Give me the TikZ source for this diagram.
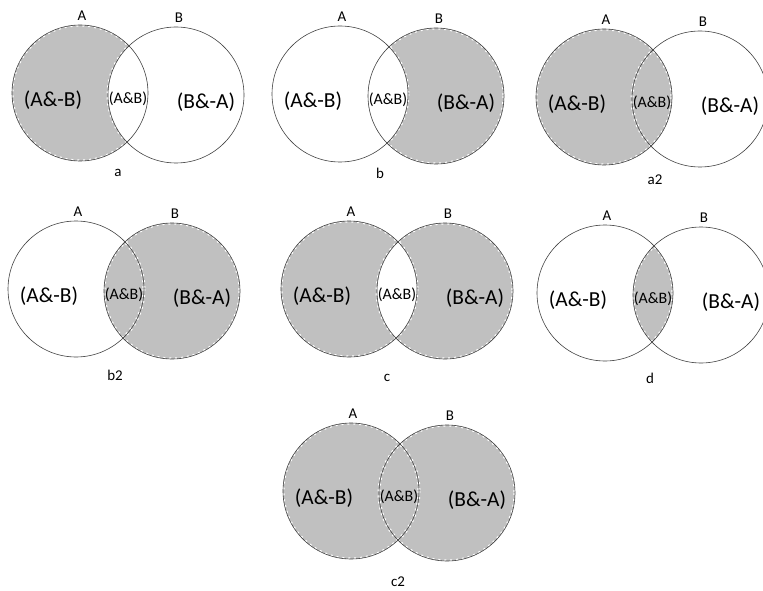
\documentclass[tikz,border=0pt]{standalone}
\usepackage{fontspec}
\setmainfont{Carlito}
\definecolor{setgray}{RGB}{192,192,192}
\tikzset{
  setname/.style={font=\fontsize{15}{18}\selectfont,inner sep=0pt},
  partbig/.style={font=\fontsize{21.5}{25}\selectfont,inner sep=0pt},
  partsmall/.style={font=\fontsize{16}{19}\selectfont,inner sep=0pt},
  rim/.style={draw=black!75,line width=0.6pt},
  jag/.style={draw=white,line width=3pt,dash pattern=on 2pt off 4pt},
}
\begin{document}
\begin{tikzpicture}[x=1bp,y=-1bp]
\pgfmathsetmacro{\rad}{68}
\pgfmathsetmacro{\dx}{96}
\useasboundingbox (0,0) rectangle (763,591);
\clip (0,0) rectangle (763,591);
% x/y: centre of A; fa/fb/fab: shaded A only, B only, A and B; nm: caption
\foreach \x/\y/\fa/\fb/\fab/\nm/\cx/\cy in {80/93/1/0/0/a/118/173,340/94/0/1/0/b/380/173,604/97/1/0/1/a2/655/180,
  76/289/0/1/1/b2/115/375,349/289/1/1/0/c/387/378,605/293/0/0/1/d/650/378,351/491/1/1/1/c2/398/582}{
\coordinate(\nm-ca) at (\x,\y);
\coordinate(\nm-cb) at (\x+\dx,\y+2);
\ifnum\fa=1 \begin{scope}\clip(\nm-ca)circle[radius=\rad];
  \fill[setgray,even odd rule](\nm-ca)circle[radius=\rad] (\nm-cb)circle[radius=\rad];\end{scope}\fi
\ifnum\fb=1 \begin{scope}\clip(\nm-cb)circle[radius=\rad];
  \fill[setgray,even odd rule](\nm-ca)circle[radius=\rad] (\nm-cb)circle[radius=\rad];\end{scope}\fi
\ifnum\fab=1 \begin{scope}\clip(\nm-ca)circle[radius=\rad];
  \fill[setgray](\nm-cb)circle[radius=\rad];\end{scope}\fi
\draw[jag](\nm-ca)circle[radius=\rad] (\nm-cb)circle[radius=\rad];
\draw[rim](\nm-ca)circle[radius=\rad] (\nm-cb)circle[radius=\rad];
\node[setname](\nm-A) at (\x+2,\y-77){A};
\node[setname](\nm-B) at (\x+\dx+3,\y-75){B};
\node[partbig](\nm-onlya) at (\x-27,\y+7){(A\&-B)};
\node[partsmall](\nm-both) at (\x+\dx/2,\y+6){(A\&B)};
\node[partbig](\nm-onlyb) at (\x+\dx+30,\y+9){(B\&-A)};
\node[setname](\nm-cap) at (\cx,\cy){\nm};
}
\end{tikzpicture}
\end{document}
